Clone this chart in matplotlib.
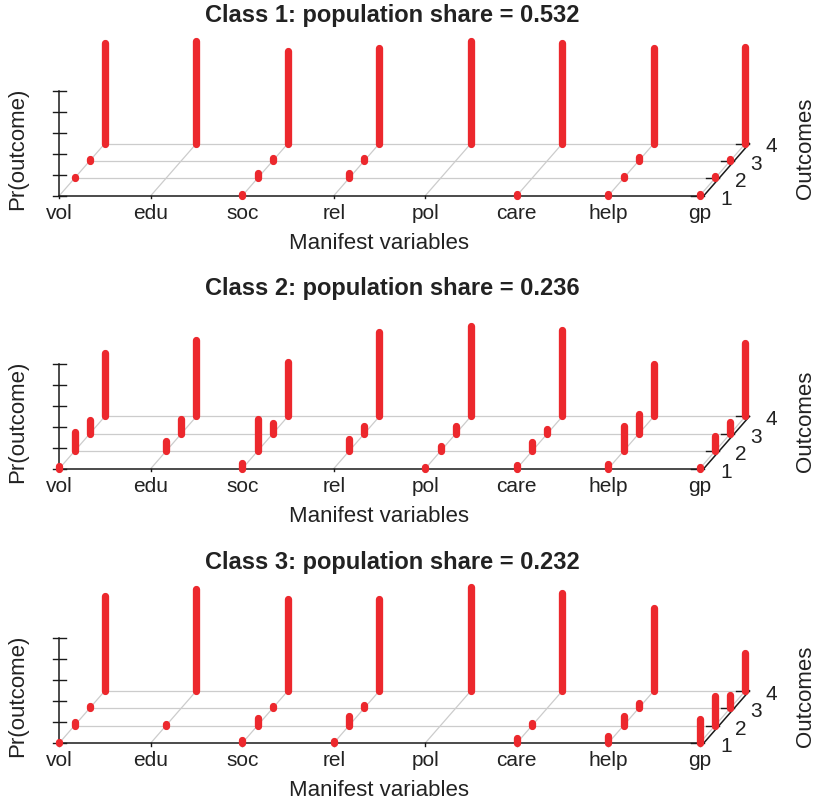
import matplotlib
matplotlib.use("Agg")
import matplotlib.pyplot as plt

plt.rcParams['font.family'] = ['Liberation Sans', 'DejaVu Sans']

# Manifest variables and outcome categories
variables = ["vol", "edu", "soc", "rel", "pol", "care", "help", "gp"]
outcomes = ["1", "2", "3", "4"]

# Estimated class-conditional outcome probabilities: one row per variable,
# columns are outcomes 1..4 (0 means no mass at that outcome)
class1_probs = [
    [0.00, 0.010, 0.020, 0.960],
    [0.00, 0.000, 0.000, 0.980],
    [0.02, 0.055, 0.030, 0.880],
    [0.00, 0.050, 0.025, 0.910],
    [0.00, 0.000, 0.000, 0.980],
    [0.02, 0.000, 0.000, 0.960],
    [0.02, 0.020, 0.040, 0.910],
    [0.02, 0.025, 0.020, 0.915],
]
class2_probs = [
    [0.025, 0.185, 0.135, 0.605],
    [0.000, 0.095, 0.145, 0.725],
    [0.050, 0.305, 0.100, 0.515],
    [0.000, 0.120, 0.075, 0.800],
    [0.020, 0.050, 0.075, 0.860],
    [0.030, 0.085, 0.050, 0.825],
    [0.045, 0.240, 0.190, 0.500],
    [0.015, 0.145, 0.115, 0.700],
]
class3_probs = [
    [0.010, 0.030, 0.020, 0.900],
    [0.000, 0.020, 0.000, 0.965],
    [0.030, 0.075, 0.020, 0.875],
    [0.020, 0.095, 0.030, 0.870],
    [0.000, 0.000, 0.000, 0.990],
    [0.050, 0.025, 0.000, 0.930],
    [0.070, 0.095, 0.050, 0.790],
    [0.230, 0.280, 0.130, 0.360],
]
class_probs = [class1_probs, class2_probs, class3_probs]
population_shares = [0.532, 0.236, 0.232]
prob_ticks = [0.0, 0.2, 0.4, 0.6, 0.8, 1.0]

# Figure geometry (pixels)
W, H = 819, 804
X0 = 59.3          # x pixel of the first variable
DXC = 91.5         # pixels between variables
DXO = 15.2         # horizontal shift per outcome (depth)
DYO = 17.4         # vertical shift per outcome (depth)
SZ = 105.0         # pixels per unit probability
BASELINES = [196.7, 469.6, 744.0]   # front edge y (from top) of each panel

RED = "#EC282D"
GRID = "#CCCCCC"
BAR_LW = 7.3 * 72 / 100  # bar width in points

ox = DXO / DXC     # depth offset in variable units
oy = DYO / SZ      # depth offset in probability units
x_right = len(variables) - 1 + 4.0 / DXC   # right end of the front edge
nlev = len(outcomes)

fig = plt.figure(figsize=(W / 100, H / 100), dpi=100)


def px_x(p):
    return p / DXC


def px_y(p):
    return p / SZ


for panel, (probs, share, base) in enumerate(zip(class_probs, population_shares, BASELINES)):
    ax = fig.add_axes([0, 0, 1, 1])
    ax.set_xlim(-X0 / DXC, (W - X0) / DXC)
    ax.set_ylim(-(H - base) / SZ, base / SZ)
    ax.axis("off")
    ax.patch.set_alpha(0)

    # depth grid: lines along the variable axis at each outcome level
    for k in range(1, nlev):
        ax.plot([k * ox, x_right + k * ox], [k * oy, k * oy], color=GRID, lw=0.9, zorder=1)
    # depth grid: lines along the outcome axis at each variable
    for i in range(len(variables)):
        ax.plot([i, i + (nlev - 1) * ox], [0, (nlev - 1) * oy], color=GRID, lw=0.9, zorder=1)

    # front axis (variables)
    ax.plot([0, x_right], [0, 0], color="#1a1a1a", lw=1.1, zorder=2)
    for i in range(len(variables)):
        ax.plot([i, i], [0, -px_y(2.5)], color="#1a1a1a", lw=1.0, zorder=2)
        ax.text(i, -px_y(16.5), variables[i], ha="center", va="center", fontsize=15, color="#222222")

    # right axis (outcomes)
    ax.plot([x_right, x_right + (nlev - 1) * ox], [0, (nlev - 1) * oy], color="#1a1a1a", lw=1.1, zorder=2)
    for k in range(nlev):
        xa = x_right + k * ox
        ax.plot([xa - px_x(13), xa], [k * oy, k * oy], color="#1a1a1a", lw=1.0, zorder=2)
        ax.text(xa + px_x(22), k * oy - px_y(2.5), outcomes[k], ha="center", va="center",
                fontsize=15, color="#222222")

    # vertical axis (probability)
    ax.plot([0, 0], [0, prob_ticks[-1]], color="#1a1a1a", lw=1.1, zorder=2)
    for t in prob_ticks:
        ax.plot([-px_x(6.3), px_x(6.3)], [t, t], color="#1a1a1a", lw=1.0, zorder=2)

    # probability bars
    for i, row in enumerate(probs):
        for k, p in enumerate(row):
            if p <= 0:
                continue
            x = i + k * ox
            y = k * oy
            ax.plot([x, x], [y, y + p], color=RED, lw=BAR_LW, solid_capstyle="round", zorder=3)

    # labels
    ax.text((379.3 - X0) / DXC, -px_y(46.5), "Manifest variables", ha="center", va="center",
            fontsize=16, color="#222222")
    ax.text(-px_x(X0 - 18), px_y(48), "Pr(outcome)", rotation=90, ha="center", va="center",
            fontsize=16, color="#222222")
    ax.text((805 - X0) / DXC, px_y(48), "Outcomes", rotation=90, ha="center", va="center",
            fontsize=16, color="#222222")
    ax.text((392.5 - X0) / DXC, px_y(181), f"Class {panel + 1}: population share = {share:.3f}",
            ha="center", va="center", fontsize=17, fontweight="bold", color="#222222")

fig.savefig("out.png", dpi=100)
